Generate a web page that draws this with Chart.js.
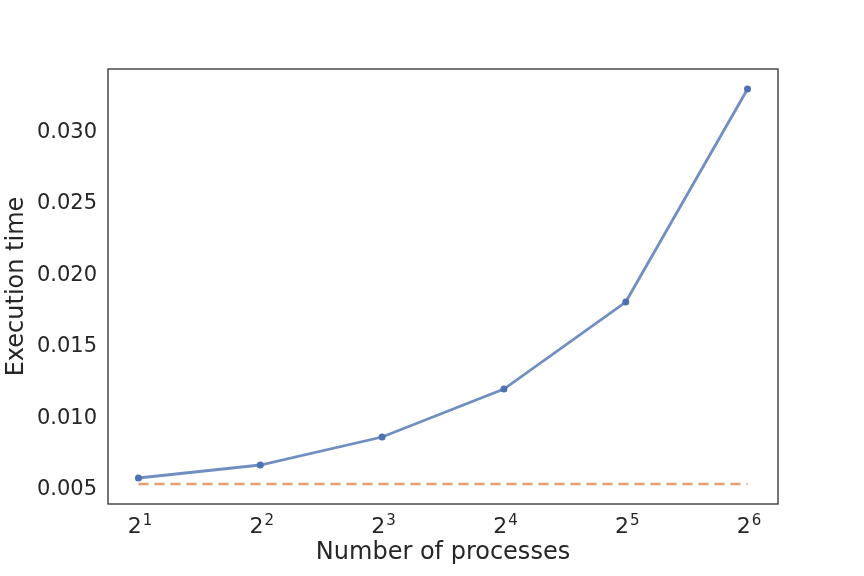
<!DOCTYPE html>
<html><head><meta charset="utf-8">
<script src="https://cdn.jsdelivr.net/npm/chart.js@4"></script>
<style>html,body{margin:0;padding:0;background:#fff}#wrap{width:864px;height:576px}</style>
</head><body><div id="wrap"><canvas id="c" width="864" height="576"></canvas></div>
<script>
const processes = [2, 4, 8, 16, 32, 64];
const execTime = [0.00570, 0.00661, 0.00857, 0.01193, 0.01802, 0.03294];
const baseline = [0.00528, 0.00528, 0.00528, 0.00528, 0.00528, 0.00528];
const yTicks = [0.005, 0.010, 0.015, 0.020, 0.025, 0.030];
const xTicks = [2, 4, 8, 16, 32, 64];
const xTickBase = '2';
const xTickExp = ['1', '2', '3', '4', '5', '6'];

const frame = {
  id: 'frame',
  afterDraw(chart) {
    const a = chart.chartArea, ctx = chart.ctx;
    ctx.save();
    ctx.strokeStyle = '#262626';
    ctx.lineWidth = 1.25;
    ctx.strokeRect(a.left, a.top, a.right - a.left, a.bottom - a.top);
    // power-of-two tick labels with superscript exponents
    const xs = chart.scales.x;
    ctx.fillStyle = '#262626';
    ctx.textBaseline = 'alphabetic';
    ctx.textAlign = 'left';
    xTicks.forEach((v, i) => {
      const px = xs.getPixelForValue(v);
      ctx.font = '22px "DejaVu Sans"';
      const wb = ctx.measureText(xTickBase).width;
      ctx.font = '15px "DejaVu Sans"';
      const we = ctx.measureText(xTickExp[i]).width;
      const x0 = px - (wb + we) / 2 + 1;
      ctx.font = '22px "DejaVu Sans"';
      ctx.fillText(xTickBase, x0, a.bottom + 29);
      ctx.font = '15px "DejaVu Sans"';
      ctx.fillText(xTickExp[i], x0 + wb + 1, a.bottom + 21);
    });
    ctx.restore();
  }
};

new Chart(document.getElementById('c'), {
  type: 'line',
  data: {
    datasets: [
      {
        data: processes.map((p, i) => ({x: p, y: execTime[i]})),
        borderColor: 'rgba(76,114,176,0.8)',
        backgroundColor: 'rgb(76,114,176)',
        pointBackgroundColor: 'rgb(76,114,176)',
        pointBorderWidth: 0,
        pointRadius: 3.5,
        borderWidth: 2.8,
        tension: 0
      },
      {
        data: processes.map((p, i) => ({x: p, y: baseline[i]})),
        borderColor: 'rgba(221,132,82,0.8)',
        borderDash: [10, 6],
        borderWidth: 2.7,
        pointRadius: 0,
        tension: 0
      }
    ]
  },
  options: {
    responsive: false,
    animation: false,
    layout: {padding: {top: 69, right: 86, left: 0, bottom: 0}},
    plugins: {legend: {display: false}, tooltip: {enabled: false}},
    scales: {
      x: {
        type: 'logarithmic',
        min: Math.pow(2, 0.75),
        max: Math.pow(2, 6.25),
        grid: {display: false, drawTicks: false},
        border: {display: false},
        afterBuildTicks: s => { s.ticks = xTicks.map(v => ({value: v})); },
        afterFit: s => { s.height = 72; },
        ticks: {display: false},
        title: {display: true, text: 'Number of processes', color: '#262626',
          font: {family: 'DejaVu Sans', size: 24}, padding: {top: 0, bottom: 9}}
      },
      y: {
        min: 0.00388,
        max: 0.03434,
        grid: {display: false, drawTicks: false},
        border: {display: false},
        afterBuildTicks: s => { s.ticks = yTicks.map(v => ({value: v})); },
        afterFit: s => { s.width = 108; },
        ticks: {
          padding: 11,
          labelOffset: 1.5,
          color: '#262626',
          font: {family: 'DejaVu Sans', size: 21},
          callback: v => v.toFixed(3)
        },
        title: {display: true, text: 'Execution time', color: '#262626',
          font: {family: 'DejaVu Sans', size: 24}, padding: {top: 2, bottom: 0}}
      }
    }
  },
  plugins: [frame]
});
</script></body></html>
